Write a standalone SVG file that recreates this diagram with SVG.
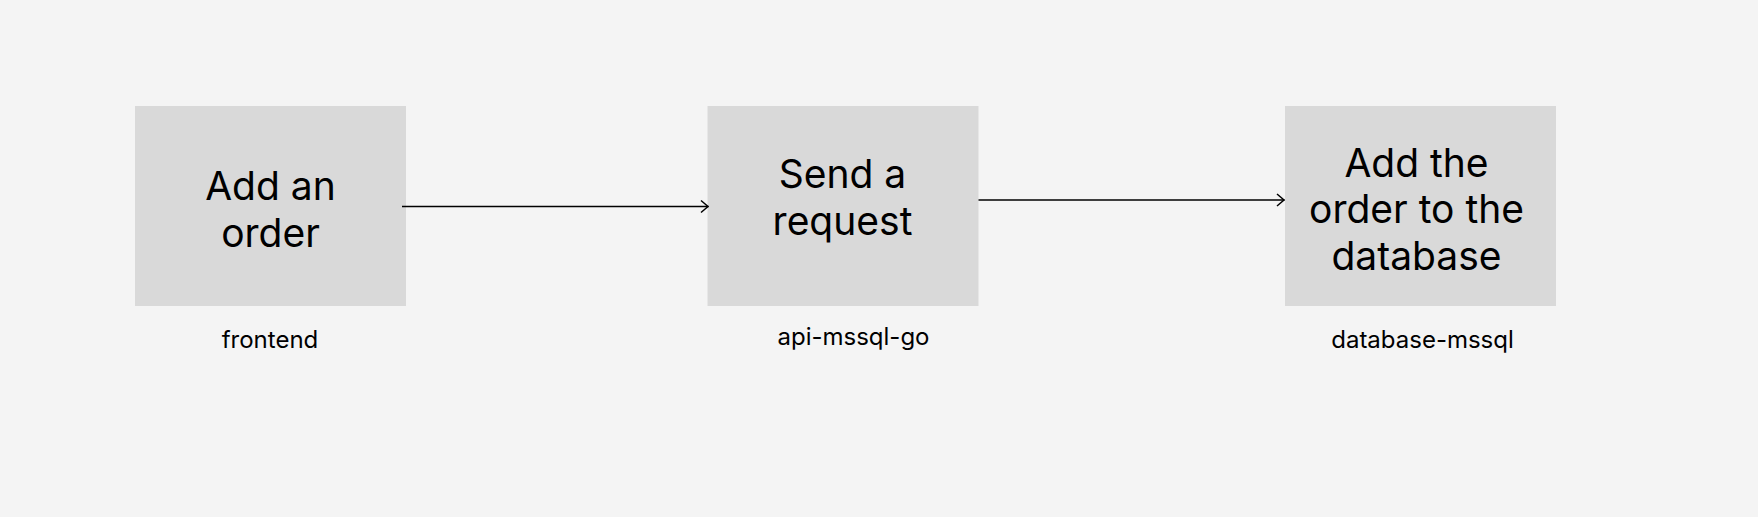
<svg xmlns="http://www.w3.org/2000/svg" width="1758" height="517" viewBox="0 0 1758 517">
<style>
.box{fill:#d9d9d9}
.t{font-family:Inter,"Noto Sans","Liberation Sans",sans-serif;font-size:39px;fill:#000;text-anchor:middle}
.l{font-family:Inter,"Noto Sans","Liberation Sans",sans-serif;font-size:24px;fill:#000;text-anchor:middle}
.c{stroke:#000;stroke-width:1.5;fill:none}
</style>
<defs>
<marker id="ah" markerUnits="userSpaceOnUse" markerWidth="12" markerHeight="16" refX="9" refY="8" orient="auto">
<path d="M1.5,2 L8.5,8 L1.5,14" fill="none" stroke="#000" stroke-width="1.5"/>
</marker>
</defs>
<rect width="1758" height="517" fill="#f4f4f4"/>
<g id="frontend">
<rect class="box" x="135" y="106" width="271" height="200"/>
<text class="t" x="270.5" y="200">Add an</text>
<text class="t" x="270.5" y="246.7">order</text>
<text class="l" x="270" y="348">frontend</text>
</g>
<g id="api-mssql-go">
<rect class="box" x="707.5" y="106" width="271" height="200"/>
<text class="t" x="842.5" y="188.3">Send a</text>
<text class="t" x="842.5" y="235">request</text>
<text class="l" x="853.5" y="345">api-mssql-go</text>
</g>
<g id="database-mssql">
<rect class="box" x="1285" y="106" width="271" height="200"/>
<text class="t" x="1416.5" y="176.7">Add the</text>
<text class="t" x="1416.5" y="223.3">order to the</text>
<text class="t" x="1416.5" y="270">database</text>
<text class="l" x="1422.5" y="348.3">database-mssql</text>
</g>
<g id="connectors">
<line class="c" x1="402" y1="206.5" x2="708.5" y2="206.5" marker-end="url(#ah)"/>
<line class="c" x1="978.5" y1="200" x2="1284.5" y2="200" marker-end="url(#ah)"/>
</g>
</svg>
